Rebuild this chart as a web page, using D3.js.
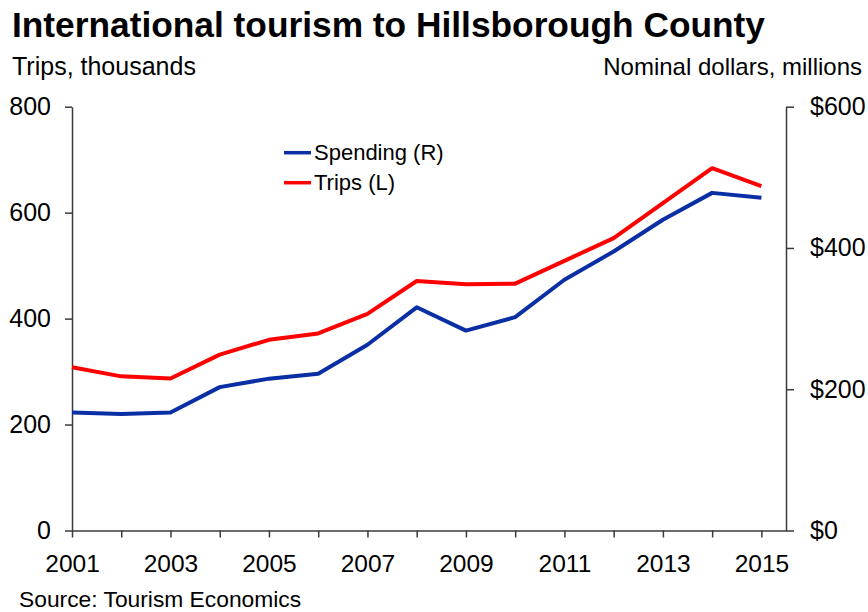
<!DOCTYPE html>
<html>
<head>
<meta charset="utf-8">
<script src="https://cdn.jsdelivr.net/npm/d3@7"></script>
<style>
  html, body { margin: 0; padding: 0; background: #fff; }
  svg { display: block; font-family: "Liberation Sans", Arial, Helvetica, sans-serif; }
  .axis text { fill: #000; }
</style>
</head>
<body>
<svg id="chart" width="868" height="612"></svg>
<script>
// International tourism to Hillsborough County, 2001-2015
const years = [2001, 2002, 2003, 2004, 2005, 2006, 2007, 2008, 2009, 2010, 2011, 2012, 2013, 2014, 2015];
// Trips, thousands (left axis)
const trips = [308, 291, 287, 332, 360, 372, 409, 471, 465, 466, 509, 552, 618, 684, 650];
// Spending, nominal dollars in millions (right axis)
const spending = [167, 165, 167, 203, 215, 222, 263, 316, 283, 302, 355, 395, 440, 478, 471];

const leftTicks = [0, 200, 400, 600, 800];
const rightTicks = [0, 200, 400, 600];
const yearLabels = [2001, 2003, 2005, 2007, 2009, 2011, 2013, 2015];

const W = 868, H = 612;
const margin = { top: 106.7, right: 82, bottom: 81.5, left: 72 };
const svg = d3.select("#chart");

const x = d3.scaleLinear()
  .domain([2001, 2015.5])
  .range([margin.left, W - margin.right]);
const yL = d3.scaleLinear()
  .domain([0, 800])
  .range([H - margin.bottom, margin.top]);
const yR = d3.scaleLinear()
  .domain([0, 600])
  .range([H - margin.bottom, margin.top]);

const axisColor = "#3a3a3a";

// Left axis (trips)
const gL = svg.append("g")
  .attr("class", "axis")
  .attr("transform", `translate(${margin.left},0)`)
  .call(d3.axisLeft(yL).tickValues(leftTicks).tickSize(7).tickSizeOuter(0).tickPadding(14));
gL.selectAll("text").style("font-size", "25px");

// Right axis (spending)
const gR = svg.append("g")
  .attr("class", "axis")
  .attr("transform", `translate(${W - margin.right},0)`)
  .call(d3.axisRight(yR).tickValues(rightTicks).tickFormat(d => "$" + d)
    .tickSize(8).tickSizeOuter(0).tickPadding(16));
gR.selectAll("text").style("font-size", "25px");

// Bottom axis (years)
const gX = svg.append("g")
  .attr("class", "axis")
  .attr("transform", `translate(0,${H - margin.bottom})`)
  .call(d3.axisBottom(x).tickValues(years)
    .tickFormat(d => yearLabels.includes(d) ? String(d) : "")
    .tickSize(7).tickSizeOuter(0).tickPadding(17));
gX.selectAll("text").style("font-size", "24.5px");

svg.selectAll(".axis path, .axis line")
  .attr("stroke", axisColor)
  .attr("stroke-width", 1.5);

// Series lines
const series = [
  { name: "Spending (R)", values: spending, y: yR, color: "#0a2ea4" },
  { name: "Trips (L)", values: trips, y: yL, color: "#ff0000" }
];

series.forEach(s => {
  const line = d3.line()
    .x((d, i) => x(years[i]))
    .y(d => s.y(d));
  svg.append("path")
    .datum(s.values)
    .attr("fill", "none")
    .attr("stroke", s.color)
    .attr("stroke-width", 4)
    .attr("stroke-linejoin", "round")
    .attr("d", line);
});

// Legend
const legend = svg.append("g").attr("transform", "translate(284,152.7)");
series.forEach((s, i) => {
  const row = legend.append("g").attr("transform", `translate(0,${i * 30})`);
  row.append("line")
    .attr("x1", 0).attr("x2", 27)
    .attr("stroke", s.color).attr("stroke-width", 3.5);
  row.append("text")
    .attr("x", 30).attr("dy", "0.35em")
    .style("font-size", "22px")
    .text(s.name);
});

// Titles and notes
svg.append("text")
  .attr("x", 12).attr("y", 36.7)
  .style("font-size", "35.3px").style("font-weight", "bold")
  .text("International tourism to Hillsborough County");

svg.append("text")
  .attr("x", 12).attr("y", 74.5)
  .style("font-size", "25px")
  .text("Trips, thousands");

svg.append("text")
  .attr("x", 862).attr("y", 74.5)
  .attr("text-anchor", "end")
  .style("font-size", "24px")
  .text("Nominal dollars, millions");

svg.append("text")
  .attr("x", 19).attr("y", 606.7)
  .style("font-size", "22.8px")
  .text("Source: Tourism Economics");
</script>
</body>
</html>
